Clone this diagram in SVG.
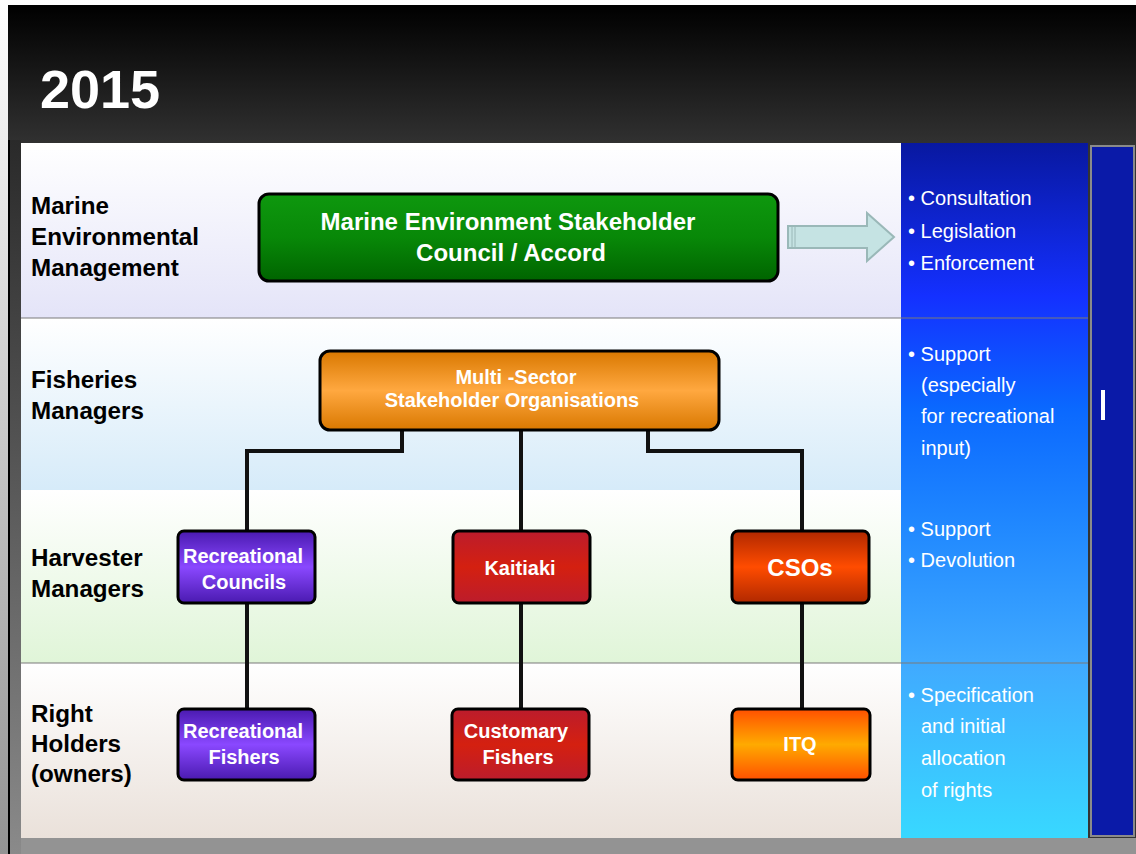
<svg xmlns="http://www.w3.org/2000/svg" width="1136" height="854" viewBox="0 0 1136 854">
<defs>
<linearGradient id="outer" x1="0" y1="0" x2="0" y2="1"><stop offset="0" stop-color="#ffffff"/><stop offset="1" stop-color="#939393"/></linearGradient>
<linearGradient id="frame" x1="0" y1="0" x2="0" y2="1"><stop offset="0" stop-color="#000000"/><stop offset="0.17" stop-color="#333333"/><stop offset="1" stop-color="#333333"/></linearGradient>
<linearGradient id="lstrip" x1="0" y1="0" x2="0" y2="1"><stop offset="0" stop-color="#2a2a2a"/><stop offset="1" stop-color="#8a8a8a"/></linearGradient>
<linearGradient id="b1" x1="0" y1="0" x2="0" y2="1"><stop offset="0" stop-color="#ffffff"/><stop offset="1" stop-color="#e4e4f8"/></linearGradient>
<linearGradient id="b2" x1="0" y1="0" x2="0" y2="1"><stop offset="0" stop-color="#ffffff"/><stop offset="1" stop-color="#d6ebf9"/></linearGradient>
<linearGradient id="b3" x1="0" y1="0" x2="0" y2="1"><stop offset="0" stop-color="#ffffff"/><stop offset="1" stop-color="#e0f5d8"/></linearGradient>
<linearGradient id="b4" x1="0" y1="0" x2="0" y2="1"><stop offset="0" stop-color="#ffffff"/><stop offset="1" stop-color="#eae1da"/></linearGradient>
<linearGradient id="blue" x1="0" y1="0" x2="0" y2="1"><stop offset="0" stop-color="#0818a0"/><stop offset="0.22" stop-color="#1430ff"/><stop offset="0.38" stop-color="#0a68ff"/><stop offset="0.55" stop-color="#2088ff"/><stop offset="0.75" stop-color="#40aaff"/><stop offset="1" stop-color="#38d8ff"/></linearGradient>
<linearGradient id="gGreen" x1="0" y1="0" x2="0" y2="1"><stop offset="0" stop-color="#0e980e"/><stop offset="0.5" stop-color="#088808"/><stop offset="1" stop-color="#006400"/></linearGradient>
<linearGradient id="gOrange" x1="0" y1="0" x2="0" y2="1"><stop offset="0" stop-color="#d97800"/><stop offset="0.5" stop-color="#ffa840"/><stop offset="1" stop-color="#d97800"/></linearGradient>
<linearGradient id="gPurple" x1="0" y1="0" x2="0" y2="1"><stop offset="0" stop-color="#4a1ab0"/><stop offset="0.5" stop-color="#8a48ff"/><stop offset="1" stop-color="#4a1ab0"/></linearGradient>
<linearGradient id="gRed" x1="0" y1="0" x2="0" y2="1"><stop offset="0" stop-color="#bc1c2c"/><stop offset="0.5" stop-color="#d42010"/><stop offset="1" stop-color="#bc1c2c"/></linearGradient>
<linearGradient id="gCso" x1="0" y1="0" x2="0" y2="1"><stop offset="0" stop-color="#b02800"/><stop offset="0.5" stop-color="#ff4c00"/><stop offset="1" stop-color="#b02800"/></linearGradient>
<linearGradient id="gItq" x1="0" y1="0" x2="0" y2="1"><stop offset="0" stop-color="#ff5000"/><stop offset="0.5" stop-color="#ffaa00"/><stop offset="1" stop-color="#ff5000"/></linearGradient>
<style>
.lbl{font-family:"Liberation Sans",Arial,sans-serif;font-weight:bold;font-size:24.2px;fill:#000}
.bt{font-family:"Liberation Sans",Arial,sans-serif;font-weight:bold;fill:#fff;text-anchor:middle}
.rt{font-family:"Liberation Sans",Arial,sans-serif;font-size:20px;fill:#fff}
.box{stroke:#000;stroke-width:3}
.con{fill:none;stroke:#111;stroke-width:4}
.sep{stroke:#7a7a7a;stroke-width:1.2}
</style>
</defs>
<rect x="0" y="0" width="1136" height="854" fill="url(#outer)"/>
<rect x="8" y="5" width="1128" height="849" fill="url(#frame)"/>
<rect x="8" y="140" width="2" height="714" fill="#000"/>
<rect x="10" y="140" width="11" height="714" fill="url(#lstrip)"/>
<rect x="21" y="838" width="1115" height="16" fill="#939393"/>
<text x="40" y="108" font-family="Liberation Sans, Arial, sans-serif" font-weight="bold" font-size="54" fill="#fff">2015</text>

<g id="bands">
<rect x="21" y="143" width="880" height="175" fill="url(#b1)"/>
<rect x="21" y="318" width="880" height="172" fill="url(#b2)"/>
<rect x="21" y="490" width="880" height="173" fill="url(#b3)"/>
<rect x="21" y="663" width="880" height="175" fill="url(#b4)"/>
<rect x="901" y="143" width="187" height="695" fill="url(#blue)"/>
<line class="sep" x1="21" y1="318" x2="1088" y2="318"/>
<line class="sep" x1="21" y1="663" x2="1088" y2="663"/>
<rect x="1091" y="146" width="43" height="690" fill="#0a1aa8" stroke="#8a8a8a" stroke-width="2"/>
<rect x="1101" y="390" width="4" height="30" fill="#fff"/>
</g>

<g id="labels">
<text class="lbl" x="31" y="214">Marine</text>
<text class="lbl" x="31" y="245">Environmental</text>
<text class="lbl" x="31" y="276">Management</text>
<text class="lbl" x="31" y="388">Fisheries</text>
<text class="lbl" x="31" y="419">Managers</text>
<text class="lbl" x="31" y="566">Harvester</text>
<text class="lbl" x="31" y="597">Managers</text>
<text class="lbl" x="31" y="722">Right</text>
<text class="lbl" x="31" y="752">Holders</text>
<text class="lbl" x="31" y="782">(owners)</text>
</g>

<g id="roles">
<text class="rt" x="908" y="205">• Consultation</text>
<text class="rt" x="908" y="238">• Legislation</text>
<text class="rt" x="908" y="270">• Enforcement</text>
<text class="rt" x="908" y="361">• Support</text>
<text class="rt" x="921" y="392">(especially</text>
<text class="rt" x="921" y="423">for recreational</text>
<text class="rt" x="921" y="455">input)</text>
<text class="rt" x="908" y="536">• Support</text>
<text class="rt" x="908" y="567">• Devolution</text>
<text class="rt" x="908" y="702">• Specification</text>
<text class="rt" x="921" y="733">and initial</text>
<text class="rt" x="921" y="765">allocation</text>
<text class="rt" x="921" y="797">of rights</text>
</g>

<g id="connectors">
<polyline class="con" points="402,430 402,451 247,451 247,531"/>
<line class="con" x1="521" y1="430" x2="521" y2="531"/>
<polyline class="con" points="648,430 648,451 802,451 802,531"/>
<line class="con" x1="247" y1="603" x2="247" y2="709"/>
<line class="con" x1="521" y1="603" x2="521" y2="709"/>
<line class="con" x1="802" y1="603" x2="802" y2="709"/>
<g id="arrow">
<path d="M788,226 H867 V213 L894,237 L867,261 V248 H788 Z" fill="#c5e3e3" stroke="#9ab8b8" stroke-width="2"/>
<line x1="792" y1="227" x2="792" y2="247" stroke="#9ab8b8" stroke-width="1"/>
<line x1="795" y1="227" x2="795" y2="247" stroke="#9ab8b8" stroke-width="1"/>
</g>
</g>

<g id="council">
<rect class="box" x="259" y="194" width="519" height="87" rx="10" fill="url(#gGreen)"/>
<text class="bt" x="508" y="230" font-size="24">Marine Environment Stakeholder</text>
<text class="bt" x="511" y="261" font-size="24">Council / Accord</text>
</g>
<g id="multisector">
<rect class="box" x="320" y="351" width="399" height="79" rx="10" fill="url(#gOrange)"/>
<text class="bt" x="516" y="384" font-size="20">Multi -Sector</text>
<text class="bt" x="512" y="407" font-size="20">Stakeholder Organisations</text>
</g>
<g id="rec-councils">
<rect class="box" x="178" y="531" width="137" height="72" rx="6" fill="url(#gPurple)"/>
<text class="bt" x="243" y="563" font-size="20">Recreational</text>
<text class="bt" x="244" y="589" font-size="20">Councils</text>
</g>
<g id="kaitiaki">
<rect class="box" x="453" y="531" width="137" height="72" rx="6" fill="url(#gRed)"/>
<text class="bt" x="520" y="575" font-size="20">Kaitiaki</text>
</g>
<g id="csos">
<rect class="box" x="732" y="531" width="137" height="72" rx="6" fill="url(#gCso)"/>
<text class="bt" x="800" y="576" font-size="24">CSOs</text>
</g>
<g id="rec-fishers">
<rect class="box" x="178" y="709" width="137" height="71" rx="6" fill="url(#gPurple)"/>
<text class="bt" x="243" y="738" font-size="20">Recreational</text>
<text class="bt" x="244" y="764" font-size="20">Fishers</text>
</g>
<g id="customary">
<rect class="box" x="452" y="709" width="137" height="71" rx="6" fill="url(#gRed)"/>
<text class="bt" x="516" y="738" font-size="20">Customary</text>
<text class="bt" x="518" y="764" font-size="20">Fishers</text>
</g>
<g id="itq">
<rect class="box" x="732" y="709" width="138" height="71" rx="6" fill="url(#gItq)"/>
<text class="bt" x="800" y="751" font-size="20">ITQ</text>
</g>
</svg>
